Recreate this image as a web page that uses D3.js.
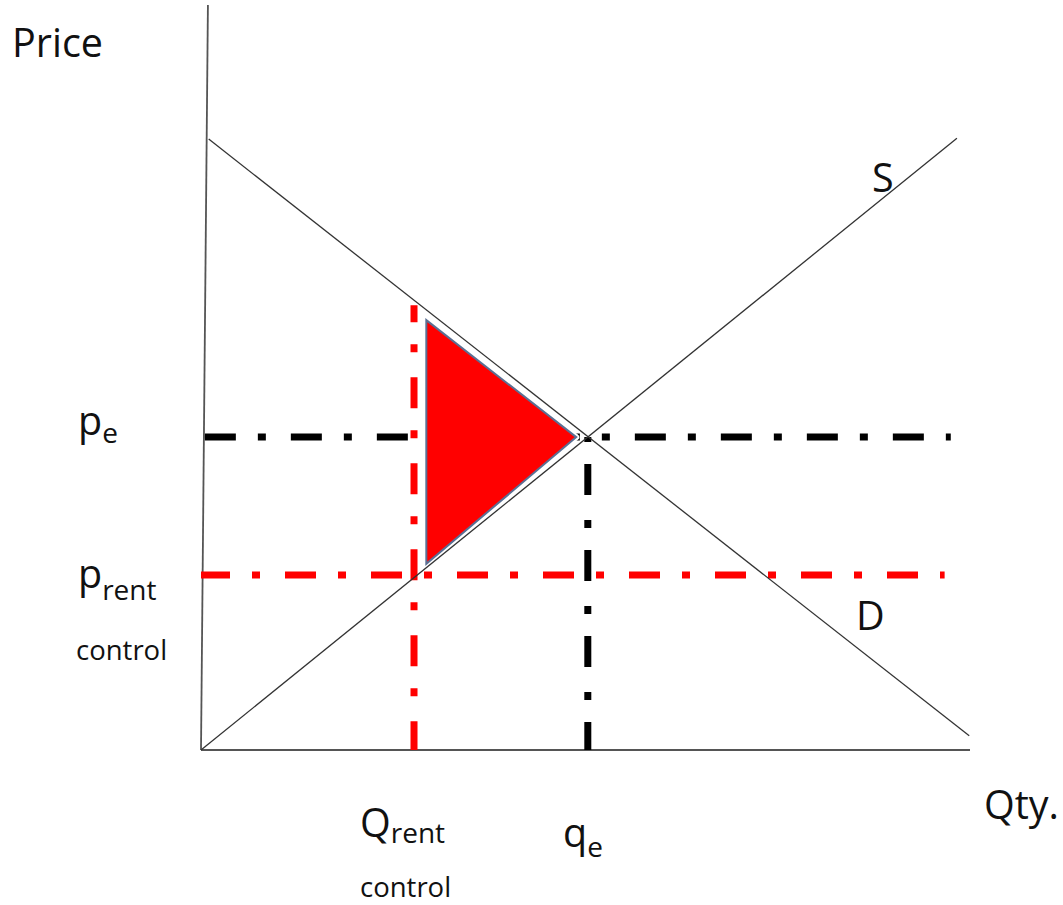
<!DOCTYPE html>
<html>
<head>
<meta charset="utf-8">
<script src="https://cdn.jsdelivr.net/npm/d3@7"></script>
<style>
  body { margin: 0; background: #fff; }
  text { font-family: "Open Sans", sans-serif; fill: #111; }
</style>
</head>
<body>
<svg id="chart"></svg>
<script>
// market values (quantity 0-100, price 0-100)
const axisY = [{ q: 0.9, p: 100 }, { q: 0, p: 0 }];
const axisX = [{ q: 0, p: 0 }, { q: 100, p: 0 }];
const supply = [{ q: 0, p: 0 }, { q: 98.3, p: 82.1 }];
const demand = [{ q: 1.0, p: 82.0 }, { q: 99.9, p: 1.9 }];
const pe = 42.0;
const qe = 50.3;
const pRent = 23.5;
const qRent = 27.7;
const qRentTop = 59.7;
const lossTriangle = [{ q: 29.3, p: 57.7 }, { q: 29.3, p: 25.0 }, { q: 48.8, p: 42.0 }];

const width = 1063;
const height = 905;
const dashDot = "31,22,8,25";

const svg = d3.select("#chart")
  .attr("width", width)
  .attr("height", height);

const x = d3.scaleLinear().domain([0, 100]).range([201, 970]);
const y = d3.scaleLinear().domain([0, 100]).range([750, 5]);

const line = d3.line().x(d => x(d.q)).y(d => y(d.p));

// axes
svg.append("path").attr("d", line(axisY))
  .attr("fill", "none").attr("stroke", "#555").attr("stroke-width", 1.8);
svg.append("path").attr("d", line(axisX))
  .attr("fill", "none").attr("stroke", "#555").attr("stroke-width", 2.2);

// equilibrium guides
svg.append("path").attr("d", line([{ q: 0.5, p: pe }, { q: 97.5, p: pe }]))
  .attr("stroke", "#000").attr("stroke-width", 7)
  .attr("stroke-dasharray", dashDot);
svg.append("path").attr("d", line([{ q: qe, p: 0 }, { q: qe, p: pe }]))
  .attr("stroke", "#000").attr("stroke-width", 7)
  .attr("stroke-dasharray", dashDot).attr("stroke-dashoffset", 3);

// rent control guides
svg.append("path").attr("d", line([{ q: 0, p: pRent }, { q: 96.7, p: pRent }]))
  .attr("stroke", "#ff0000").attr("stroke-width", 7)
  .attr("stroke-dasharray", dashDot).attr("stroke-dashoffset", 2);
svg.append("path").attr("d", line([{ q: qRent, p: qRentTop }, { q: qRent, p: 0 }]))
  .attr("stroke", "#ff0000").attr("stroke-width", 7)
  .attr("stroke-dasharray", dashDot).attr("stroke-dashoffset", 14);

// deadweight loss (white halo, then shape)
svg.append("path").attr("d", line(lossTriangle) + "Z")
  .attr("fill", "none")
  .attr("stroke", "#fff")
  .attr("stroke-width", 6)
  .attr("stroke-linejoin", "round");
svg.append("path").attr("d", line(lossTriangle) + "Z")
  .attr("fill", "#ff0000")
  .attr("stroke", "#5a6f93")
  .attr("stroke-width", 2);

// supply & demand
svg.append("path").attr("d", line(supply))
  .attr("fill", "none").attr("stroke", "#333").attr("stroke-width", 1.3);
svg.append("path").attr("d", line(demand))
  .attr("fill", "none").attr("stroke", "#333").attr("stroke-width", 1.3);

// labels
function label(xp, yp, main, sub, dy, size) {
  const t = svg.append("text")
    .attr("x", xp).attr("y", yp)
    .style("font-size", (size || 39.5) + "px")
    .text(main);
  if (sub) {
    t.append("tspan")
      .attr("dy", dy)
      .style("font-size", "28px")
      .text(sub);
  }
  return t;
}

label(12, 57, "Price");
label(984, 819, "Qty.");
label(872, 192, "S");
label(856, 630, "D");
label(78, 435, "p", "e", 8);
label(78, 588, "p", "rent", 12);
label(76, 660, "control", null, 0, 27.5);
label(360, 837, "Q", "rent", 6);
label(360, 897, "control", null, 0, 27.5);
label(563, 847, "q", "e", 10);
</script>
</body>
</html>
